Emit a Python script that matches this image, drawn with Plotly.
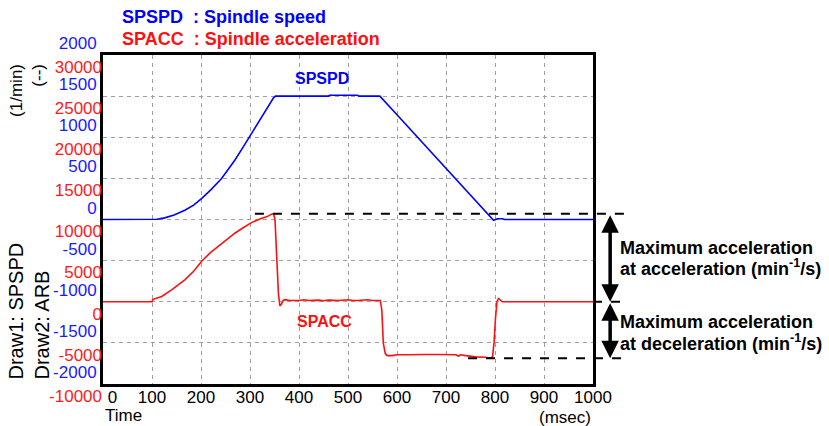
import plotly.graph_objects as go

# ---- data ----
time_spd = [0, 100, 110, 126, 145, 167, 185, 201, 220, 242, 255, 269, 285, 302, 315, 324, 338, 348, 352,
            460, 462, 520, 522, 565, 600, 650, 700, 750, 797, 805, 815, 820, 1000]
spspd = [0, 0, 3, 20, 55, 113, 175, 255, 360, 498, 600, 720, 870, 1031, 1155, 1245, 1385, 1480, 1500,
         1500, 1510, 1510, 1500, 1500, 1274, 951, 628, 304, -10, 10, 10, 0, 0]

time_acc = [0, 100, 102, 120, 140, 167, 185, 201, 218, 235, 252, 269, 286, 303, 320, 335, 344, 348,
            351, 355, 358, 361, 364, 368, 372, 380, 400, 410, 420, 440, 450, 460, 480, 500, 510, 520,
            540, 550, 560, 566, 569, 572, 576, 580, 590, 600, 620, 640, 660, 680, 700, 720, 725, 730,
            740, 750, 760, 780, 790, 795, 798, 801, 804, 807, 810, 815, 1000]
spacc = [0, 0, 300, 640, 1450, 2670, 3700, 4900, 5900, 6700, 7500, 8330, 9000, 9620, 10050, 10350,
         10650, 10700, 10000, 5000, 1000, -490, -300, 200, 250, 150, 150, 250, 150, 200, 120, 200, 150,
         250, 150, 150, 250, 150, 150, 150, -1000, -5000, -6300, -6550, -6550, -6450, -6450, -6400,
         -6420, -6420, -6420, -6450, -6600, -6450, -6550, -6650, -6700, -6750, -6870, -6700, -5000,
         -2000, 0, 400, 200, 0, 0]

spd_ticks = list(range(-2000, 2001, 500))
acc_ticks = list(range(-10000, 30001, 5000))
time_ticks = list(range(0, 1001, 100))
time_ticktext = ["\u00a0\u00a0\u00a0\u00a00"] + [str(v) for v in time_ticks[1:]]

max_acc = max(spacc)
min_acc = min(spacc)

FONT = "Liberation Sans, Arial, sans-serif"
GRID = "#a0a0a0"

fig = go.Figure()
fig.add_trace(go.Scatter(x=time_spd, y=spspd, mode="lines", line=dict(color="#0000ff", width=1.6),
                         yaxis="y", showlegend=False))
fig.add_trace(go.Scatter(x=time_acc, y=spacc, mode="lines", line=dict(color="#ff1010", width=1.6),
                         yaxis="y2", showlegend=False))

fig.update_layout(
    width=829, height=426,
    margin=dict(l=103, r=236, t=55, b=42, autoexpand=False),
    paper_bgcolor="white", plot_bgcolor="white",
    font=dict(family=FONT, size=17, color="black"),
    xaxis=dict(range=[0, 1000], tickvals=time_ticks, ticktext=time_ticktext,
               showgrid=True, gridcolor=GRID, griddash="4px,4px", gridwidth=1,
               showline=True, linecolor="black", linewidth=3, mirror=True, ticks="",
               zeroline=False, tickfont=dict(size=17, color="black"), automargin=False,
               ticklabelstandoff=-4),
    yaxis=dict(range=[-2000, 2000], tickvals=spd_ticks, ticktext=[str(v) for v in spd_ticks],
               showgrid=True, gridcolor=GRID, griddash="4px,4px", gridwidth=1,
               showline=True, linecolor="black", linewidth=3, mirror=True, ticks="",
               zeroline=False, tickfont=dict(size=17, color="#1a1aff"),
               ticklabelposition="outside top", automargin=False),
    yaxis2=dict(range=[-10000, 30000], tickvals=acc_ticks, ticktext=[str(v) for v in acc_ticks],
                overlaying="y", side="left", showgrid=False, zeroline=False, ticks="",
                tickfont=dict(size=17, color="#ff1a1a"), ticklabelposition="outside bottom",
                automargin=False),
)

# in-plot labels
fig.add_annotation(x=447, y=1715, xref="x", yref="y", text="<b>SPSPD</b>", showarrow=False,
                   font=dict(size=16, color="#0000ff"))
fig.add_annotation(x=453, y=-2460, xref="x", yref="y2", text="<b>SPACC</b>", showarrow=False,
                   font=dict(size=16, color="#ff1010"))

# title lines
fig.add_annotation(x=0.035, y=1.117, xref="paper", yref="paper", xanchor="left", yanchor="middle",
                   text="<b>SPSPD\u00a0\u00a0: Spindle speed</b>", showarrow=False,
                   font=dict(size=18, color="#0000ff"))
fig.add_annotation(x=0.035, y=1.05, xref="paper", yref="paper", xanchor="left", yanchor="middle",
                   text="<b>SPACC\u00a0\u00a0: Spindle acceleration</b>", showarrow=False,
                   font=dict(size=18, color="#ff1010"))

# axis captions
fig.add_annotation(x=-0.153, y=0.891, xref="paper", yref="paper", xanchor="center", yanchor="middle",
                   text="(1/min)<br>(--)", textangle=-90, align="right", showarrow=False,
                   font=dict(size=17, color="black"))
fig.add_annotation(x=-0.152, y=0.222, xref="paper", yref="paper", xanchor="center", yanchor="middle",
                   text="Draw1: SPSPD<br>Draw2: ARB", textangle=-90, align="left", showarrow=False,
                   font=dict(size=20, color="black"))
fig.add_annotation(x=0.0, y=-0.097, xref="paper", yref="paper", xanchor="left", yanchor="middle",
                   text="Time", showarrow=False, font=dict(size=17, color="black"))
fig.add_annotation(x=1.0, y=-0.101, xref="paper", yref="paper", xanchor="right", yanchor="middle",
                   text="(msec)", showarrow=False, font=dict(size=17, color="black"))

# dashed reference lines
dash_line = dict(color="black", width=2, dash="dash")
fig.add_shape(type="line", xref="paper", yref="y2", x0=0.31, x1=1.065, y0=max_acc, y1=max_acc,
              line=dash_line)
fig.add_shape(type="line", xref="paper", yref="y2", x0=1.0, x1=1.07, y0=0, y1=0, line=dash_line)
fig.add_shape(type="line", xref="paper", yref="y2", x0=0.745, x1=1.065, y0=min_acc, y1=min_acc,
              line=dash_line)

# double arrows
for y_a, y_b in [(0, max_acc), (min_acc, 0)]:
    fig.add_annotation(x=1.035, y=y_a, xref="paper", yref="y2", ax=0, ay=y_b, axref="pixel",
                       ayref="y2", text="", showarrow=True, arrowside="end+start", arrowhead=2,
                       arrowsize=1, arrowwidth=3.5, arrowcolor="black", standoff=0, startstandoff=0)

note_lines = [
    ("<b>Maximum acceleration</b>", 0.4127),
    ("<b>at acceleration (min<sup>-1</sup>/s)</b>", 0.3551),
    ("<b>Maximum acceleration</b>", 0.1882),
    ("<b>at deceleration (min<sup>-1</sup>/s)</b>", 0.1275),
]
for txt, yp in note_lines:
    fig.add_annotation(x=1.051, y=yp, xref="paper", yref="paper", xanchor="left", yanchor="middle",
                       text=txt, align="left", showarrow=False, font=dict(size=18, color="black"))

fig.write_html("out.html", post_script="document.body.style.margin='0px';",
               config={"displayModeBar": False})
